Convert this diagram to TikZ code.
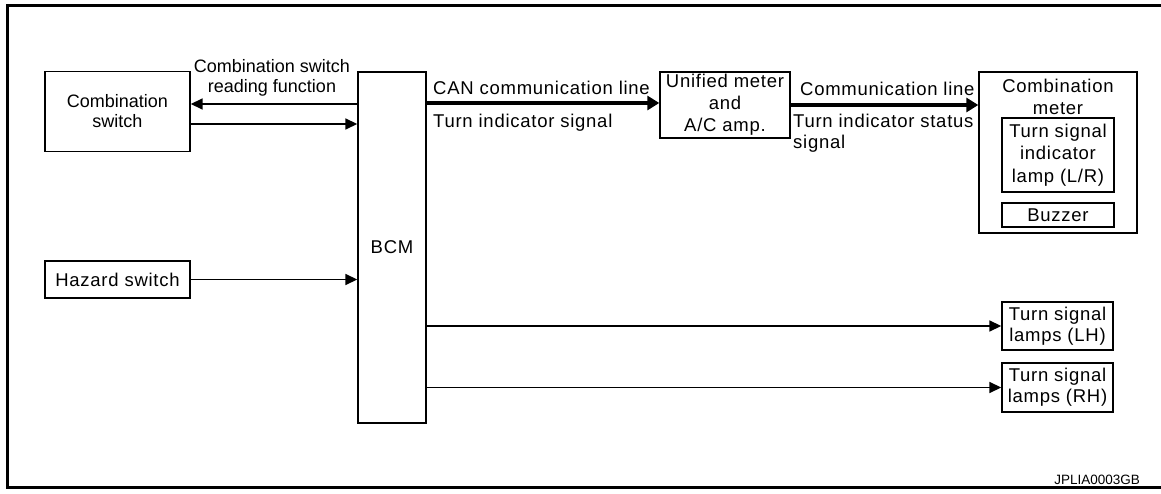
\documentclass[tikz,border=0pt]{standalone}
\usepackage{fontspec}
\setmainfont{Liberation Sans}
\newfontfamily\trk[LetterSpace=4]{Liberation Sans}
\usetikzlibrary{arrows.meta}
\begin{document}
\begin{tikzpicture}[x=1pt,y=-1pt,
  box/.style={draw, line width=1.4pt, inner sep=0pt, align=center, font=\trk\fontsize{18.5}{21}\selectfont},
  lbl/.style={inner sep=0pt, font=\trk\fontsize{18.5}{21}\selectfont},
  thin/.style={line width=1.6pt, -{Triangle[length=12pt,width=11pt]}},
  thick/.style={line width=4.5pt, -{Triangle[length=12pt,width=14pt]}}]
\useasboundingbox (0,0) rectangle (1161,494);
% frame
\draw[line width=3pt] (1161,6) -- (7.5,6) -- (7.5,487) -- (1161,487);
% nodes
\node[box, minimum width=145pt, minimum height=80pt, font=\fontsize{18}{20}\selectfont] (cs) at (117.5,111.5) {Combination\\switch};
\node[box, minimum width=145pt, minimum height=37pt] (hz) at (117.5,279.5) {Hazard switch};
\node[box, minimum width=68pt, minimum height=351pt] (bcm) at (392,247.5) {BCM};
\node[box, minimum width=130pt, minimum height=66pt, font=\trk\fontsize{18.5}{22}\selectfont] (um) at (725,105) {Unified meter\\and\\A/C amp.};
\node[box, minimum width=158pt, minimum height=161pt] (cm) at (1058,152.5) {};
\node[lbl, align=center, font=\trk\fontsize{18.5}{22}\selectfont] (cmt) at (1058,97) {Combination\\meter};
\node[box, minimum width=112pt, minimum height=74pt, font=\trk\fontsize{18.5}{22.5}\selectfont] (lamp) at (1058,155) {Turn signal\\indicator\\lamp (L/R)};
\node[box, minimum width=112pt, minimum height=24pt] (buz) at (1058,215) {Buzzer};
\node[box, minimum width=111pt, minimum height=48pt] (lh) at (1057.5,326) {Turn signal\\lamps (LH)};
\node[box, minimum width=111pt, minimum height=49pt] (rh) at (1057.5,387.5) {Turn signal\\lamps (RH)};
% connectors
\draw[thin] ([yshift=7.5pt]bcm.west |- cs.east) -- ([yshift=7.5pt]cs.east);
\draw[thin] ([yshift=-12.5pt]cs.east) -- ([yshift=-12.5pt]bcm.west |- cs.east);
\draw[thin] (hz.east) -- (hz.east -| bcm.west);
\draw[thick] ([yshift=2pt]bcm.east |- um.west) -- ([yshift=2pt]um.west);
\draw[thick] (um.east) -- (um.east -| cm.west);
\draw[thin] (bcm.east |- lh.west) -- (lh.west);
\draw[thin] (bcm.east |- rh.west) -- (rh.west);
% labels
\node[lbl, align=center, font=\fontsize{18}{20}\selectfont] (l1) at (272,78) {Combination switch\\reading function};
\node[lbl, anchor=west] (l2) at (433,88) {CAN communication line};
\node[lbl, anchor=west] (l3) at (433,123) {Turn indicator signal};
\node[lbl, anchor=west] (l4) at (800,89) {Communication line};
\node[lbl, anchor=north west, align=left] (l5) at (793,114) {Turn indicator status\\signal};
\node[lbl, anchor=east, font=\fontsize{13.5}{16}\selectfont] (code) at (1140,480) {JPLIA0003GB};
\end{tikzpicture}
\end{document}
